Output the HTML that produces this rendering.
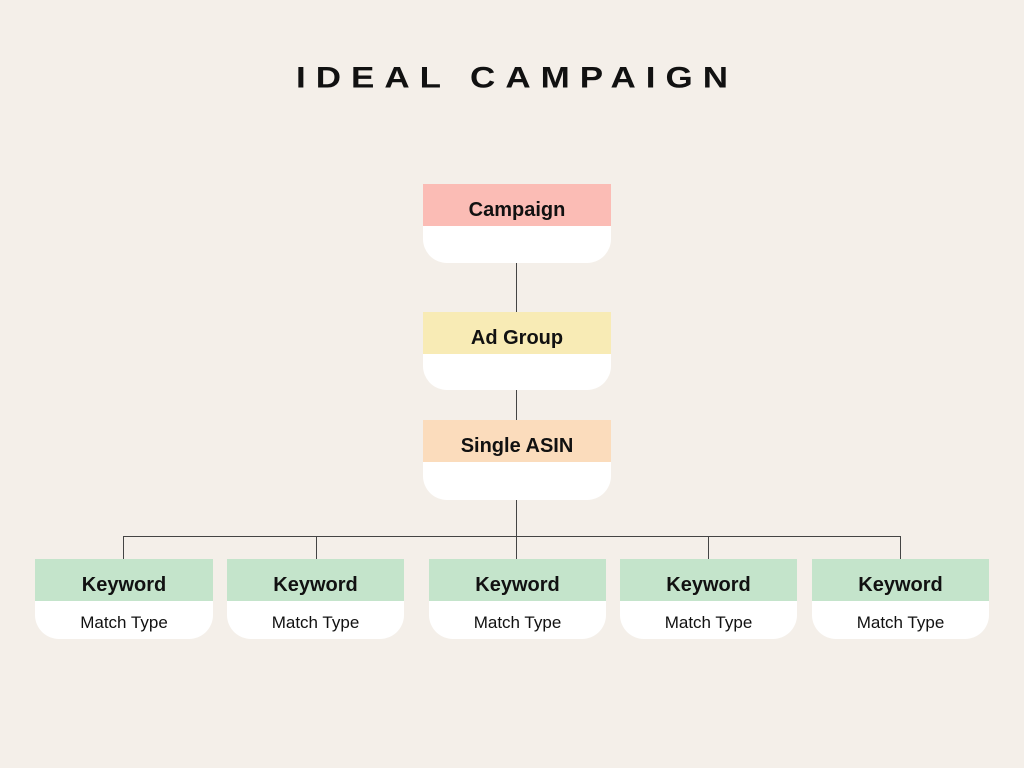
<!DOCTYPE html>
<html><head><style>
body{margin:0;width:1024px;height:768px;background:#f4efe9;position:relative;font-family:"Liberation Sans",sans-serif;overflow:hidden}
.t{position:absolute;left:5px;width:1024px;top:58px;text-align:center;font-size:35px;letter-spacing:10px;color:#111;font-weight:bold;transform:scaleY(0.85)}
.b{position:absolute;background:#fff;border-radius:0 0 24px 24px;overflow:hidden}
.h{height:42px;line-height:52px;text-align:center;font-weight:bold;font-size:20px;color:#111}
.s{text-align:center;font-size:17px;color:#111;line-height:44px}
.l{position:absolute;background:#444}
</style></head><body>
<div class="t">IDEAL CAMPAIGN</div>
<div class="b" style="left:423px;top:184px;width:188px;height:79px"><div class="h" style="background:#fbbcb5">Campaign</div></div>
<div class="b" style="left:423px;top:312px;width:188px;height:78px"><div class="h" style="background:#f8ebb5">Ad Group</div></div>
<div class="b" style="left:423px;top:420px;width:188px;height:80px"><div class="h" style="background:#fbdcbc">Single ASIN</div></div>
<div class="l" style="left:516px;top:263px;width:1px;height:49px"></div>
<div class="l" style="left:516px;top:390px;width:1px;height:30px"></div>
<div class="l" style="left:516px;top:500px;width:1px;height:59px"></div>
<div class="l" style="left:123px;top:536px;width:778px;height:1px"></div>
<div class="l" style="left:123px;top:536px;width:1px;height:23px"></div>
<div class="l" style="left:316px;top:536px;width:1px;height:23px"></div>
<div class="l" style="left:708px;top:536px;width:1px;height:23px"></div>
<div class="l" style="left:900px;top:536px;width:1px;height:23px"></div>
<div class="b" style="left:35px;top:559px;width:178px;height:80px"><div class="h" style="background:#c4e4cb">Keyword</div><div class="s">Match Type</div></div>
<div class="b" style="left:227px;top:559px;width:177px;height:80px"><div class="h" style="background:#c4e4cb">Keyword</div><div class="s">Match Type</div></div>
<div class="b" style="left:429px;top:559px;width:177px;height:80px"><div class="h" style="background:#c4e4cb">Keyword</div><div class="s">Match Type</div></div>
<div class="b" style="left:620px;top:559px;width:177px;height:80px"><div class="h" style="background:#c4e4cb">Keyword</div><div class="s">Match Type</div></div>
<div class="b" style="left:812px;top:559px;width:177px;height:80px"><div class="h" style="background:#c4e4cb">Keyword</div><div class="s">Match Type</div></div>
</body></html>
